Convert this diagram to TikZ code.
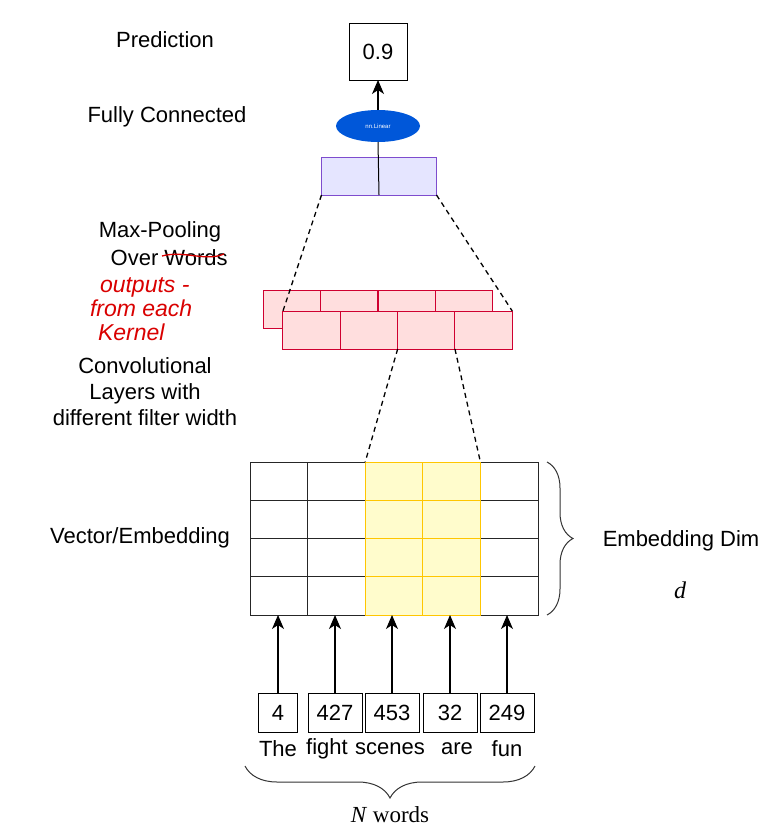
\documentclass[tikz,border=0pt]{standalone}
\usepackage{fontspec}
\setmainfont{Liberation Sans}
\newfontfamily\serifit{Liberation Serif}
\usetikzlibrary{positioning,arrows.meta,shapes.geometric,decorations.pathreplacing}

\begin{document}
\begin{tikzpicture}[x=1pt,y=-1pt,every node/.style={font=\fontsize{22}{26}\selectfont,inner sep=0,outer sep=0},arr/.style={-{Stealth[length=14pt,width=12pt,inset=4pt]},line width=1.2pt},cell/.style={draw=black!85,line width=1pt,minimum width=57.6pt,minimum height=38.25pt},hcell/.style={cell,draw=orange!45!yellow,fill=yellow!20},conv/.style={draw=purple!75!red,line width=1pt,fill=red!13,minimum width=57.4pt,minimum height=38pt},wbox/.style={draw,line width=1pt,minimum height=39pt,minimum width=54pt},lbl/.style={align=center},note/.style={text=red!85!black,font=\fontsize{23}{24}\selectfont\itshape,align=left,anchor=west},dashline/.style={line width=1.3pt,dash pattern=on 5pt off 4pt},brc/.style={decorate,line width=1pt,black!80}]
\useasboundingbox (0,0) rectangle (768,827);
% labels on the left
\node[lbl] (tpred) at (165,40){Prediction};
\node[lbl] (tfc) at (167,117){Fully Connected};
\node[lbl,font=\fontsize{22}{28}\selectfont] (tpool) at (160,244){Max-Pooling\\\phantom{M}Over Words};
\draw[red!85!black,line width=1.3pt] (162,256) .. controls (185,250) and (205,262) .. (224,254);
\node[note] (tnote) at (90,309){\hspace{10pt}outputs -\\from each\\\hspace{8pt}Kernel};
\node[lbl] (tconv) at (145,392){Convolutional\\Layers with\\different filter width};
\node[lbl] (temb) at (140,538){Vector/Embedding};
% top: prediction and fully connected layer
\node[draw,line width=1pt,minimum width=58pt,minimum height=57pt] (pred) at (378,51.5){0.9};
\node[ellipse,fill=blue!60!cyan!85!black,minimum width=84pt,minimum height=32pt,text=white,font=\fontsize{6}{7}\selectfont] (fc) at (378,126){nn.Linear};
\node[draw=blue!45!violet!70,fill=blue!10,line width=1pt,minimum width=115pt,minimum height=38pt] (pool) at (379,176){};
\draw[line width=1pt] (pool.south) -- (fc.south);
\draw[arr] (fc.north) -- (pred.south);
% convolution outputs
\foreach \k in {1,...,4}\node[conv] (b-\k) at ({263+57.5*(\k-0.5)},309){};
\foreach \k in {1,...,4}\node[conv] (f-\k) at ({283+57.3*(\k-0.5)},330){};
\draw[dashline] (pool.south west) -- (f-1.north west);
\draw[dashline] (pool.south east) -- (f-4.north east);
% embedding matrix
\foreach \i in {1,2,5}\foreach \j in {1,...,4}\node[cell] (c-\i-\j) at ({250+57.6*(\i-0.5)},{462+38.25*(\j-0.5)}){};
\foreach \i in {3,4}\foreach \j in {1,...,4}\node[hcell] (c-\i-\j) at ({250+57.6*(\i-0.5)},{462+38.25*(\j-0.5)}){};
\draw[dashline] (f-2.south east) -- (c-3-1.north west);
\draw[dashline] (f-3.south east) -- (c-4-1.north east);
\draw[brc,decoration={brace,amplitude=26pt}] (547,462) -- (547,615);
\node (tdim) at (681,541){Embedding Dim};
\node[font=\fontsize{24}{26}\selectfont\serifit\itshape] (td) at (680,590){d};
% word ids and words
\node[wbox,minimum width=39pt] (w1) at (278,712.5){4};
\node[wbox] (w2) at (335,712.5){427};
\node[wbox] (w3) at (392,712.5){453};
\node[wbox] (w4) at (450,712.5){32};
\node[wbox] (w5) at (507,712.5){249};
\foreach \i in {1,...,5}\draw[arr] (w\i.north) -- (c-\i-4.south -| w\i.north);
\node (t1) at (278,749){The};
\node (t2) at (327,749){fight};
\node (t3) at (390,749){scenes};
\node (t4) at (457,749){are};
\node (t5) at (507,749){fun};
\draw[brc,decoration={brace,amplitude=32pt}] (535,766) -- (245,766);
\node[font=\fontsize{23}{26}\serifit] (tN) at (390,815){\itshape N\/\upshape\ words};
\end{tikzpicture}
\end{document}
